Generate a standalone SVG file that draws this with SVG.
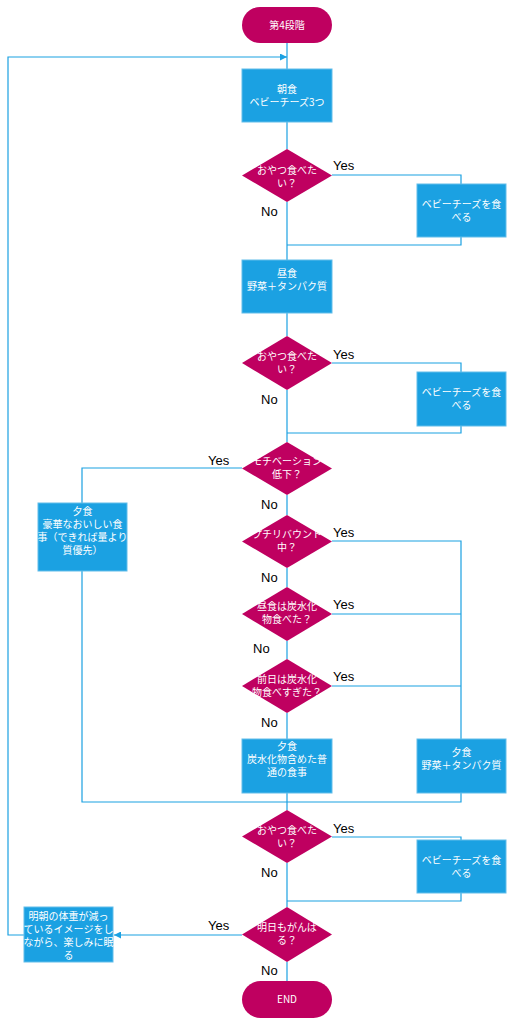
<svg xmlns="http://www.w3.org/2000/svg" width="513" height="1024" viewBox="0 0 513 1024">
<style>
.term{fill:#BF0060}
.box{fill:#1BA1E2;stroke:#62BDEA;stroke-width:1}
.dia{fill:#BF0060}
.t{font-family:"Noto Sans CJK JP","Noto Sans",sans-serif;font-size:10px;fill:#FFFFFF;text-anchor:middle}
.lbl{font-family:"Liberation Sans",Arial,sans-serif;font-size:13px;fill:#000000}
.ln{fill:none;stroke:#1BA1E2;stroke-width:1.2}
</style>
<defs>
<marker id="ah" viewBox="0 0 10 10" refX="10" refY="5" markerWidth="8" markerHeight="7" markerUnits="userSpaceOnUse" orient="auto">
<path d="M0,0 L10,5 L0,10 Z" fill="#1BA1E2"/>
</marker>
</defs>
<rect width="513" height="1024" fill="#FFFFFF"/>
<g id="connectors">
<path class="ln" d="M287,43 V69"/>
<path class="ln" d="M24,935 H8 V57 H287" marker-end="url(#ah)"/>
<path class="ln" d="M287,122 V149"/>
<path class="ln" d="M287,202 V260"/>
<path class="ln" d="M332,175 H461 V184"/>
<path class="ln" d="M461,237 V245 H287"/>
<path class="ln" d="M287,313 V336"/>
<path class="ln" d="M287,390 V442"/>
<path class="ln" d="M332,363 H461 V372"/>
<path class="ln" d="M461,426 V433 H287"/>
<path class="ln" d="M242,468 H82 V503"/>
<path class="ln" d="M287,495 V515"/>
<path class="ln" d="M287,568 V587"/>
<path class="ln" d="M287,641 V659"/>
<path class="ln" d="M287,713 V739"/>
<path class="ln" d="M332,541 H461 V739"/>
<path class="ln" d="M332,614 H461"/>
<path class="ln" d="M332,686 H461"/>
<path class="ln" d="M82,571 V802 H461 V793"/>
<path class="ln" d="M287,793 V810"/>
<path class="ln" d="M287,863 V907"/>
<path class="ln" d="M332,837 H461 V840"/>
<path class="ln" d="M461,893 V901 H287"/>
<path class="ln" d="M242,935 H114" marker-end="url(#ah)"/>
<path class="ln" d="M287,962 V981"/>
</g>
<g id="start">
<rect class="term" x="242" y="7" width="90" height="36" rx="18"/>
<text class="t" x="287" y="28.5">第4段階</text>
</g>
<g id="breakfast">
<rect class="box" x="242" y="69" width="90" height="53"/>
<text class="t" x="287" y="93">朝食<tspan x="287" dy="13">ベビーチーズ3つ</tspan></text>
</g>
<g id="snack1q">
<polygon class="dia" points="287,149 332,175.5 287,202 242,175.5"/>
<text class="t" x="287" y="173.5">おやつ食べた<tspan x="287" dy="13">い？</tspan></text>
<text class="lbl" x="333" y="170">Yes</text>
<text class="lbl" x="261" y="216">No</text>
</g>
<g id="snack1">
<rect class="box" x="417" y="184" width="89" height="53"/>
<text class="t" x="461.5" y="207.5">ベビーチーズを食<tspan x="461.5" dy="13">べる</tspan></text>
</g>
<g id="lunch">
<rect class="box" x="242" y="260" width="90" height="53"/>
<text class="t" x="287" y="277">昼食<tspan x="287" dy="13">野菜＋タンパク質</tspan></text>
</g>
<g id="snack2q">
<polygon class="dia" points="287,336 332,363 287,390 242,363"/>
<text class="t" x="287" y="360">おやつ食べた<tspan x="287" dy="13">い？</tspan></text>
<text class="lbl" x="333" y="359">Yes</text>
<text class="lbl" x="261" y="404">No</text>
</g>
<g id="snack2">
<rect class="box" x="417" y="372" width="89" height="54"/>
<text class="t" x="461.5" y="396">ベビーチーズを食<tspan x="461.5" dy="13">べる</tspan></text>
</g>
<g id="motivq">
<polygon class="dia" points="287,442 332,468.5 287,495 242,468.5"/>
<text class="t" x="287" y="465">モチベーション<tspan x="287" dy="13">低下？</tspan></text>
<text class="lbl" x="208" y="465">Yes</text>
<text class="lbl" x="261" y="509">No</text>
</g>
<g id="dinnerLuxury">
<rect class="box" x="38" y="503" width="89" height="68"/>
<text class="t" x="82.5" y="515">夕食<tspan x="82.5" dy="13">豪華なおいしい食</tspan><tspan x="82.5" dy="13">事（できれば量より</tspan><tspan x="82.5" dy="13">質優先）</tspan></text>
</g>
<g id="reboundq">
<polygon class="dia" points="287,515 332,541.5 287,568 242,541.5"/>
<text class="t" x="287" y="537.5">プチリバウント<tspan x="287" dy="13">中？</tspan></text>
<text class="lbl" x="333" y="537">Yes</text>
<text class="lbl" x="261" y="582">No</text>
</g>
<g id="lunchcarbq">
<polygon class="dia" points="287,587 332,614 287,641 242,614"/>
<text class="t" x="287" y="610">昼食は炭水化<tspan x="287" dy="13">物食べた？</tspan></text>
<text class="lbl" x="333" y="609">Yes</text>
<text class="lbl" x="253" y="653">No</text>
</g>
<g id="prevdayq">
<polygon class="dia" points="287,659 332,686 287,713 242,686"/>
<text class="t" x="287" y="682.5">前日は炭水化<tspan x="287" dy="13">物食べすぎた？</tspan></text>
<text class="lbl" x="333" y="681">Yes</text>
<text class="lbl" x="261" y="727">No</text>
</g>
<g id="dinnerNormal">
<rect class="box" x="242" y="739" width="90" height="54"/>
<text class="t" x="287" y="750">夕食<tspan x="287" dy="13">炭水化物含めた普</tspan><tspan x="287" dy="13">通の食事</tspan></text>
</g>
<g id="dinnerVeg">
<rect class="box" x="417" y="739" width="89" height="54"/>
<text class="t" x="461.5" y="756">夕食<tspan x="461.5" dy="13">野菜＋タンパク質</tspan></text>
</g>
<g id="snack3q">
<polygon class="dia" points="287,810 332,836.5 287,863 242,836.5"/>
<text class="t" x="287" y="834">おやつ食べた<tspan x="287" dy="13">い？</tspan></text>
<text class="lbl" x="333" y="833">Yes</text>
<text class="lbl" x="261" y="877">No</text>
</g>
<g id="snack3">
<rect class="box" x="417" y="840" width="89" height="53"/>
<text class="t" x="461.5" y="864">ベビーチーズを食<tspan x="461.5" dy="13">べる</tspan></text>
</g>
<g id="tomorrowq">
<polygon class="dia" points="287,907 332,934.5 287,962 242,934.5"/>
<text class="t" x="287" y="931">明日もがんば<tspan x="287" dy="13">る？</tspan></text>
<text class="lbl" x="208" y="930">Yes</text>
<text class="lbl" x="261" y="975">No</text>
</g>
<g id="sleep">
<rect class="box" x="24" y="907" width="89" height="55"/>
<text class="t" x="68.5" y="919.5">明朝の体重が減っ<tspan x="68.5" dy="13">ているイメージをし</tspan><tspan x="68.5" dy="13">ながら、楽しみに眠</tspan><tspan x="68.5" dy="13">る</tspan></text>
</g>
<g id="end">
<rect class="term" x="242" y="981" width="90" height="37" rx="18.5"/>
<text class="t" x="287" y="1002.5">END</text>
</g>
</svg>
